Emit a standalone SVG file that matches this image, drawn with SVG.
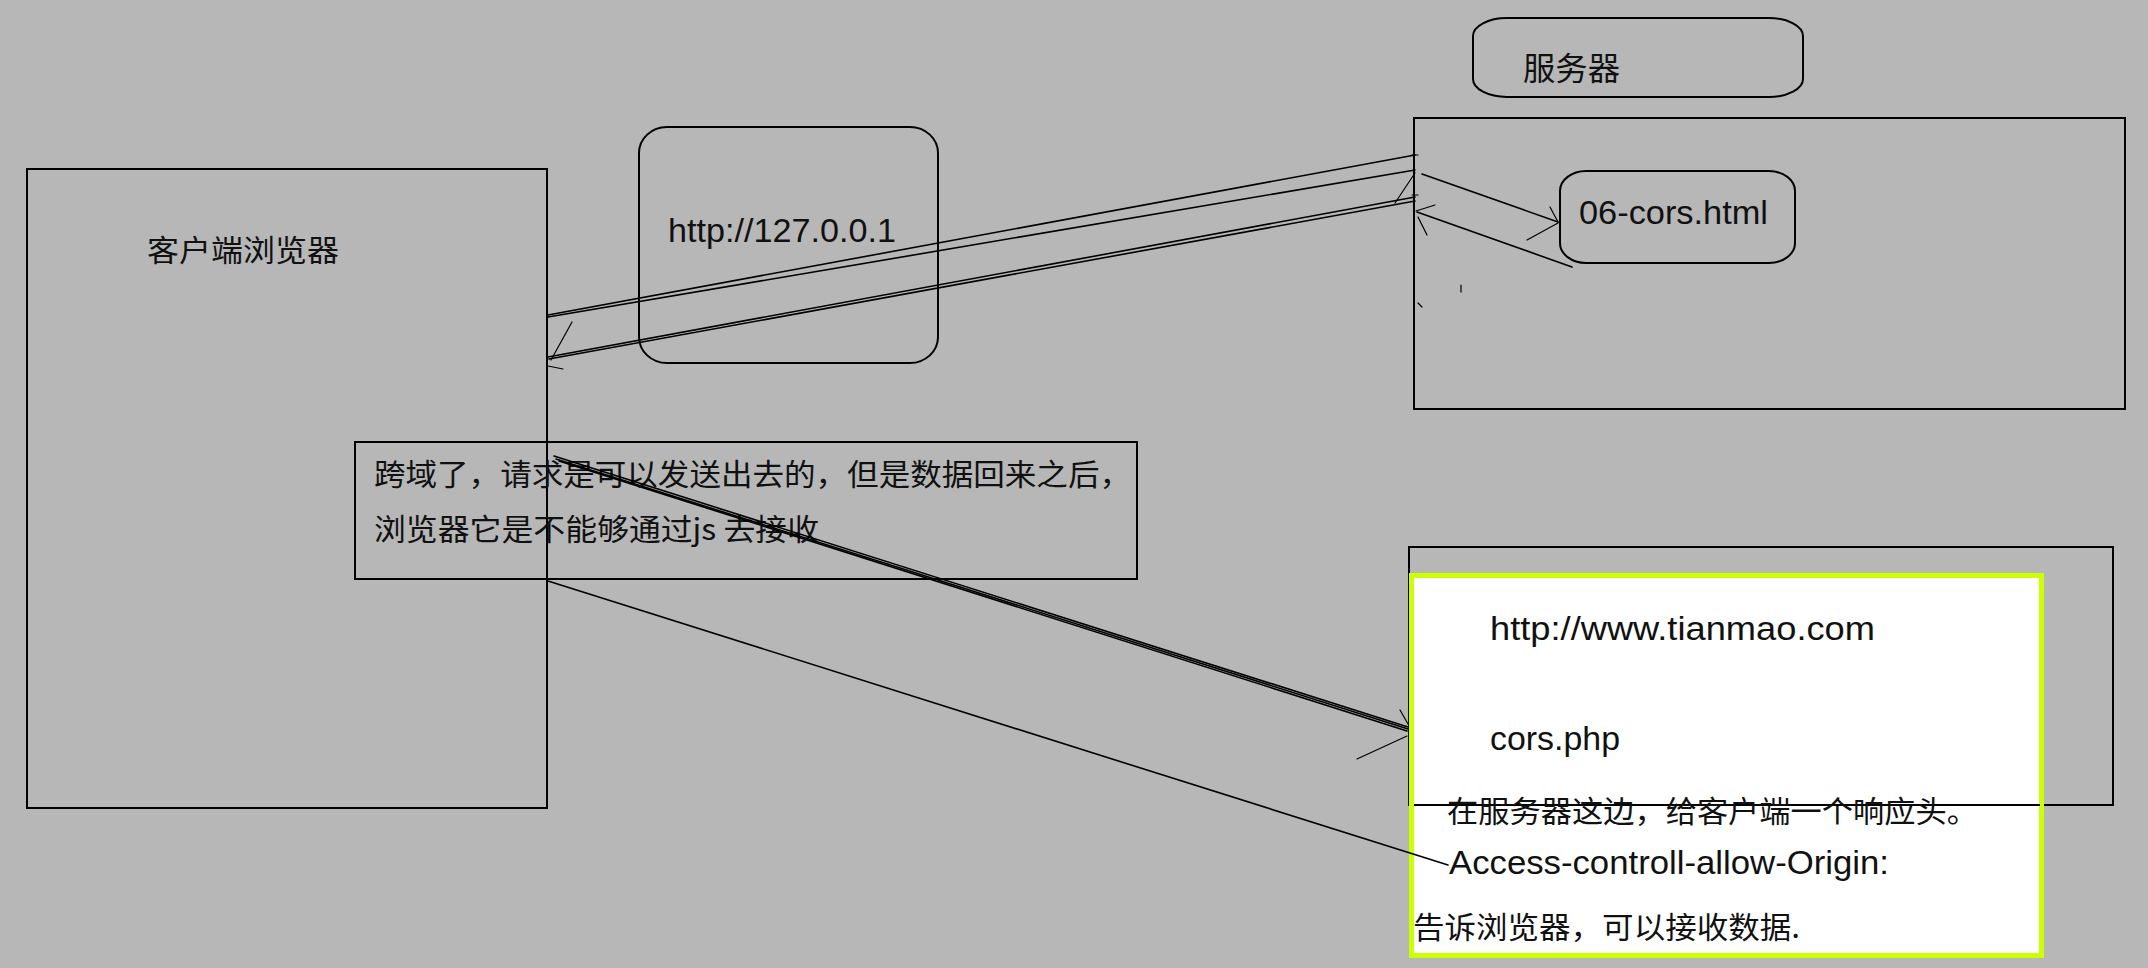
<svg xmlns="http://www.w3.org/2000/svg" width="2148" height="968" viewBox="0 0 2148 968">
<style>
.box{fill:none;stroke:#000;stroke-width:2}
.ln{fill:none;stroke:#000;stroke-width:1.6;stroke-linecap:round}
.thin{fill:none;stroke:#000;stroke-width:1.2;stroke-linecap:round}
.cjk{font-family:"Noto Sans CJK SC","Noto Sans",sans-serif;fill:#111}
.lat{font-family:"Liberation Sans",Arial,sans-serif;fill:#111}
</style>
<rect width="2148" height="968" fill="#b7b7b7"/>

<g id="client">
<rect class="box" x="27" y="169" width="520" height="639"/>
<text class="cjk" x="147" y="261" font-size="30" textLength="192" lengthAdjust="spacingAndGlyphs">客户端浏览器</text>
</g>

<g id="http-local">
<rect class="box" x="639" y="127" width="299" height="236" rx="28" ry="26"/>
<text class="lat" x="668" y="242" font-size="33" textLength="228" lengthAdjust="spacingAndGlyphs">http://127.0.0.1</text>
</g>

<g id="server-label">
<rect class="box" x="1473" y="18" width="330" height="79" rx="34" ry="18"/>
<text class="cjk" x="1523" y="80" font-size="32" textLength="97" lengthAdjust="spacingAndGlyphs">服务器</text>
</g>

<g id="server">
<rect class="box" x="1414" y="118" width="711" height="291"/>
</g>

<g id="cors-html">
<rect class="box" x="1560" y="171" width="235" height="92" rx="26" ry="20"/>
<text class="lat" x="1579" y="224" font-size="34" textLength="189" lengthAdjust="spacingAndGlyphs">06-cors.html</text>
</g>

<g id="note">
<rect class="box" x="355" y="442" width="782" height="137"/>
<text class="cjk" x="374" y="485" font-size="30" textLength="757" lengthAdjust="spacingAndGlyphs">跨域了，请求是可以发送出去的，但是数据回来之后，</text>
<text class="cjk" x="374" y="540" font-size="30" textLength="445" lengthAdjust="spacingAndGlyphs">浏览器它是不能够通过js 去接收</text>
</g>

<g id="tianmao">
<rect class="box" x="1409" y="547" width="704" height="258"/>
<rect x="1411.5" y="575.5" width="630" height="380" fill="#ffffff" stroke="#ccff00" stroke-width="5"/>
<line x1="1414" y1="805" x2="2040" y2="805" stroke="#000" stroke-width="2"/>
<text class="lat" x="1490" y="640" font-size="33" textLength="385" lengthAdjust="spacingAndGlyphs">http://www.tianmao.com</text>
<text class="lat" x="1490" y="750" font-size="33" textLength="130" lengthAdjust="spacingAndGlyphs">cors.php</text>
<text class="cjk" x="1447" y="822" font-size="30" textLength="531" lengthAdjust="spacingAndGlyphs">在服务器这边，给客户端一个响应头。</text>
<text class="lat" x="1449" y="874" font-size="34" textLength="440" lengthAdjust="spacingAndGlyphs">Access-controll-allow-Origin:</text>
<text class="cjk" x="1413" y="938" font-size="30" textLength="387" lengthAdjust="spacingAndGlyphs">告诉浏览器，可以接收数据.</text>
</g>

<g id="connectors">
<line class="ln" x1="548" y1="315" x2="1415" y2="155"/>
<line class="ln" x1="548" y1="317" x2="1415" y2="170"/>
<line class="ln" x1="548" y1="357" x2="1415" y2="197"/>
<line class="ln" x1="549" y1="359" x2="1415" y2="201"/>
<line class="thin" x1="572" y1="322" x2="551" y2="360"/>
<line class="thin" x1="548" y1="366" x2="563" y2="369"/>
<line class="thin" x1="1415" y1="173" x2="1395" y2="203"/>
<line class="thin" x1="1412" y1="155" x2="1418" y2="155"/>
<line class="thin" x1="1412" y1="195" x2="1418" y2="195"/>
<line class="ln" x1="1422" y1="174" x2="1558" y2="222"/>
<line class="thin" x1="1550" y1="207" x2="1558" y2="222"/>
<line class="thin" x1="1527" y1="240" x2="1558" y2="223"/>
<line class="ln" x1="1572" y1="267" x2="1417" y2="212"/>
<line class="thin" x1="1435" y1="205" x2="1416" y2="211"/>
<line class="thin" x1="1427" y1="235" x2="1418" y2="217"/>
<line class="thin" x1="1461" y1="285" x2="1461" y2="292"/>
<line class="thin" x1="1418" y1="303" x2="1422" y2="307"/>
<line class="ln" x1="554" y1="456" x2="1408" y2="727"/>
<line class="ln" x1="556" y1="459" x2="1408" y2="729"/>
<line class="ln" x1="559" y1="461" x2="1407" y2="731"/>
<line class="thin" x1="1400" y1="710" x2="1408" y2="724"/>
<line class="thin" x1="1357" y1="759" x2="1407" y2="736"/>
<line class="ln" x1="548" y1="581" x2="1448" y2="865"/>
</g>
</svg>
